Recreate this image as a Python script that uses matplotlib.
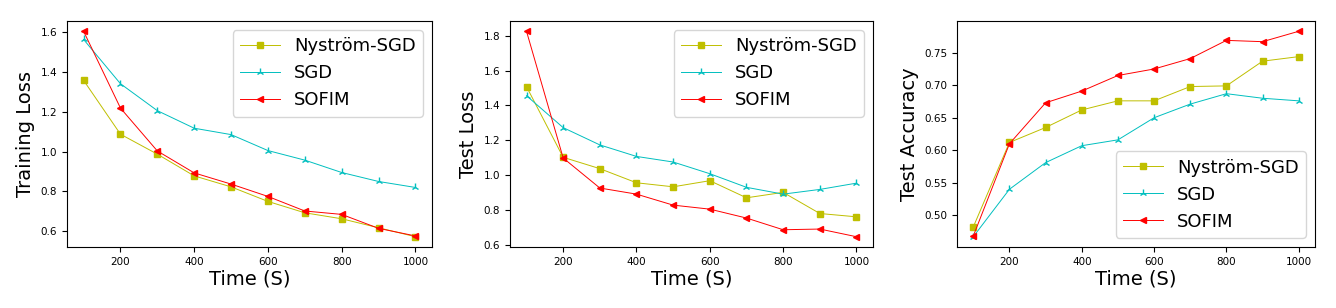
import matplotlib
matplotlib.use('Agg')
import matplotlib.pyplot as plt

# Time axis (seconds)
time_s = [100, 200, 300, 400, 500, 600, 700, 800, 900, 1000]

# Training loss
train_nystrom = [1.357, 1.087, 0.987, 0.878, 0.823, 0.750, 0.693, 0.663, 0.618, 0.573]
train_sgd = [1.562, 1.340, 1.205, 1.117, 1.085, 1.005, 0.957, 0.895, 0.850, 0.820]
train_sofim = [1.603, 1.218, 1.003, 0.893, 0.837, 0.775, 0.702, 0.685, 0.615, 0.577]

# Test loss
test_nystrom = [1.508, 1.103, 1.038, 0.957, 0.934, 0.969, 0.871, 0.902, 0.781, 0.762]
test_sgd = [1.456, 1.273, 1.174, 1.108, 1.076, 1.009, 0.931, 0.892, 0.919, 0.955]
test_sofim = [1.825, 1.099, 0.927, 0.892, 0.829, 0.806, 0.755, 0.688, 0.692, 0.648]

# Test accuracy
acc_nystrom = [0.482, 0.612, 0.635, 0.662, 0.676, 0.676, 0.698, 0.699, 0.737, 0.744]
acc_sgd = [0.467, 0.540, 0.581, 0.607, 0.616, 0.650, 0.671, 0.687, 0.680, 0.676]
acc_sofim = [0.468, 0.610, 0.673, 0.691, 0.715, 0.725, 0.741, 0.769, 0.767, 0.783]

labels = ['Nyström-SGD', 'SGD', 'SOFIM']

panels = [
    ('Training Loss', [train_nystrom, train_sgd, train_sofim], 'upper right'),
    ('Test Loss', [test_nystrom, test_sgd, test_sofim], 'upper right'),
    ('Test Accuracy', [acc_nystrom, acc_sgd, acc_sofim], 'lower right'),
]

fig = plt.figure(figsize=(13.36, 3.08), dpi=100)

# axes boxes in pixel fractions (left, bottom, width, height)
boxes = [
    (67 / 1336, 61 / 308, 365 / 1336, 226 / 308),
    (510 / 1336, 61 / 308, 363 / 1336, 226 / 308),
    (957 / 1336, 61 / 308, 358 / 1336, 226 / 308),
]

for box, (ylabel, series, loc) in zip(boxes, panels):
    ax = fig.add_axes(box)
    ax.plot(time_s, series[0], color='y', marker='s', markersize=5,
            linewidth=0.7, label=labels[0])
    ax.plot(time_s, series[1], color='c', marker='2', markersize=6,
            linewidth=0.7, label=labels[1])
    ax.plot(time_s, series[2], color='r', marker='<', markersize=4,
            linewidth=0.7, label=labels[2])
    ax.set_xlabel('Time (S)', fontsize=14, labelpad=2)
    ax.set_ylabel(ylabel, fontsize=14, labelpad=4)
    ax.tick_params(labelsize=7.5)
    ax.set_xticks([200, 400, 600, 800, 1000])
    ax.legend(loc=loc, fontsize=13, handlelength=2.2)

fig.savefig('out.png', dpi=100)
